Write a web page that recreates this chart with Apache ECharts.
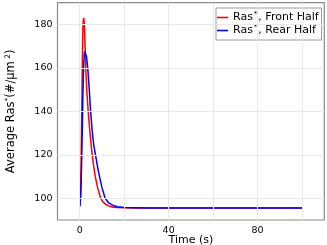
<!DOCTYPE html>
<html><head><meta charset="utf-8">
<script src="https://cdn.jsdelivr.net/npm/echarts@6/dist/echarts.min.js"></script>
<style>html,body{margin:0;padding:0;background:#fff}#c{width:327px;height:245px}</style>
</head><body><div id="c"></div>
<script>
// Ras*, Front Half
const timeFront = [0, 0.2, 0.4, 0.6, 0.8, 1.0, 1.2, 1.4, 1.6, 1.8, 2.0, 2.3, 2.7, 3.2, 3.8, 4.4, 5.0, 5.6, 6.3, 7.0, 8.0, 9.4, 10.5, 12, 13.5, 15, 17, 20, 25, 30, 40, 50, 60, 70, 80, 90, 100];
const front     = [96.2, 98, 104, 115, 130, 148, 165, 177, 182, 183, 181, 174, 160, 149, 140, 132.5, 126, 120, 114.5, 110, 105, 100, 98.2, 97, 96.3, 95.9, 95.7, 95.6, 95.5, 95.5, 95.5, 95.5, 95.5, 95.5, 95.5, 95.5, 95.5];
// Ras*, Rear Half
const timeRear  = [0, 0.2, 0.4, 0.6, 0.8, 1.0, 1.2, 1.4, 1.6, 1.8, 2.0, 2.2, 2.6, 3.0, 3.6, 4.2, 4.9, 5.6, 6.3, 7.1, 8.0, 9.0, 10.0, 11.4, 13, 15, 17, 20, 25, 30, 40, 50, 60, 70, 80, 90, 100];
const rear      = [96.2, 97, 100, 106, 114, 124, 135, 146, 155, 161.5, 165.5, 167.5, 168, 165.5, 160, 151.5, 140, 131, 124.5, 120, 114.5, 109.5, 105, 100, 97.9, 96.7, 96.1, 95.7, 95.6, 95.5, 95.5, 95.5, 95.5, 95.5, 95.5, 95.5, 95.5];
const xTickLabels = [0, 40, 80];
const yTickLabels = [100, 120, 140, 160, 180];
const xGridLines = [0, 20, 40, 60, 80, 100];
const yGridLines = [100, 120, 140, 160, 180];
const seriesNames = ['Ras*, Front Half', 'Ras*, Rear Half'];

const FONT = 'DejaVu Sans';
const zip = (a, b) => a.map((v, i) => [v, b[i]]);
const chart = echarts.init(document.getElementById('c'), null, {renderer: 'canvas'});
chart.setOption({
  animation: false,
  backgroundColor: '#fff',
  grid: {left: 57.5, right: 2.7, top: 2.7, bottom: 25, containLabel: false, outerBoundsMode: 'none',
    show: true, borderColor: '#8a8a8a', borderWidth: 1.2, backgroundColor: 'transparent'},
  legend: {
    orient: 'vertical', left: 216, top: 8, padding: [3, 3, 3, 1], itemGap: 0,
    itemWidth: 11, itemHeight: 1.6, icon: 'rect',
    backgroundColor: '#fff', borderColor: '#9a9a9a', borderWidth: 1,
    data: seriesNames,
    formatter: n => '{b|Ras}{s|*}{b|' + n.slice(4) + '}',
    textStyle: {
      fontFamily: FONT, fontSize: 11, color: '#000', lineHeight: 13,
      rich: {
        b: {fontFamily: FONT, fontSize: 11, color: '#000', lineHeight: 13},
        s: {fontFamily: FONT, fontSize: 7, color: '#000', lineHeight: 13, verticalAlign: 'top', padding: [0, 1, 0, 1]}
      }
    }
  },
  xAxis: {
    type: 'value', min: -10, max: 110, interval: 10,
    name: 'Time (s)', nameLocation: 'middle', nameGap: 15, nameMoveOverlap: false,
    nameTextStyle: {fontFamily: FONT, fontSize: 11, color: '#000', verticalAlign: 'top'},
    axisLine: {show: false}, axisTick: {show: false}, splitLine: {show: false},
    axisLabel: {margin: 6, fontFamily: FONT, fontSize: 9.5, color: '#000',
      formatter: v => xTickLabels.includes(v) ? String(v) : ''}
  },
  yAxis: {
    type: 'value', min: 90, max: 190, interval: 10,
    name: '{b|Average Ras}{s|*}{b|(#/μm}{s| 2}{b|)}', nameLocation: 'middle', nameGap: 40, nameRotate: 90, nameMoveOverlap: false,
    nameTextStyle: {fontFamily: FONT, fontSize: 11.5, color: '#000',
      rich: {
        b: {fontFamily: FONT, fontSize: 11.5, color: '#000', lineHeight: 13},
        s: {fontFamily: FONT, fontSize: 7.5, color: '#000', lineHeight: 13, verticalAlign: 'top'}
      }},
    axisLine: {show: false}, axisTick: {show: false}, splitLine: {show: false},
    axisLabel: {margin: 5, fontFamily: FONT, fontSize: 9.5, color: '#000',
      formatter: v => yTickLabels.includes(v) ? String(v) : ''}
  },
  series: [
    {
      name: 'grid', type: 'line', data: [], z: 1, silent: true,
      markLine: {
        silent: true, symbol: ['none', 'none'], label: {show: false}, animation: false,
        lineStyle: {color: '#e8e8e8', width: 1, type: 'solid'},
        emphasis: {disabled: true},
        data: xGridLines.map(v => ({xAxis: v})).concat(yGridLines.map(v => ({yAxis: v})))
      }
    },
    {name: seriesNames[0], type: 'line', data: zip(timeFront, front), showSymbol: false, z: 3,
      lineStyle: {color: '#ff0000', width: 1.5}, itemStyle: {color: '#ff0000'}},
    {name: seriesNames[1], type: 'line', data: zip(timeRear, rear), showSymbol: false, z: 4,
      lineStyle: {color: '#0000ff', width: 1.5}, itemStyle: {color: '#0000ff'}}
  ]
});
</script>
</body></html>
